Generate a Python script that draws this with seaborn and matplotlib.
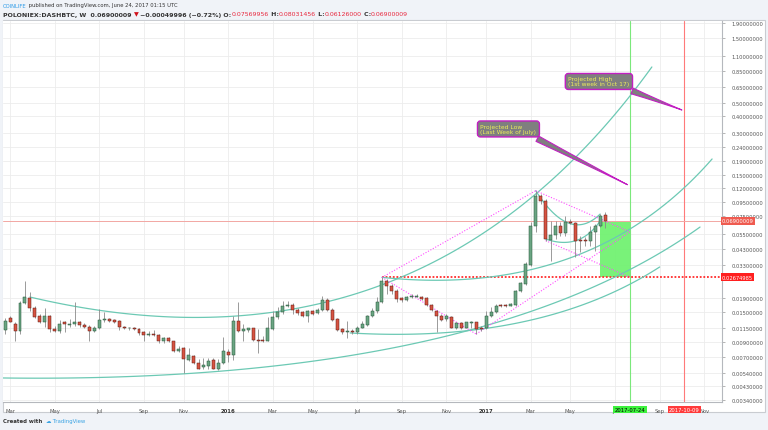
import numpy as np
import pandas as pd
import matplotlib
matplotlib.use("Agg")
import matplotlib.pyplot as plt
import matplotlib.dates as mdates
from matplotlib.patches import Rectangle
import seaborn as sns

sns.set_style("white")
plt.rcParams["font.family"] = ["DejaVu Sans"]

# ---------------- data (weekly DASH/BTC candles) ----------------
first_week = "2015-02-23"
opens = [.0110, .0135, .0122, .0109, .0174, .0189, .0159, .0140, .0126, .0140,
         .0112, .0109, .0126, .0120, .0122, .0126, .0120, .0117, .0108, .0114,
         .0130, .0133, .0131, .0129, .0116, .0114, .0115, .0112, .0106, .0101,
         .0103, .0101, .0091, .0096, .0091, .0077, .0081, .0067, .0071, .0063,
         .0059, .0060, .0067, .0057, .0063, .0076, .0073, .0129, .0109, .0110,
         .0114, .0094, .0093, .0092, .0112, .0137, .0150, .0164, .0168, .0155,
         .0150, .0140, .0152, .0146, .0154, .0184, .0155, .0133, .0112, .0106,
         .0108, .0106, .0115, .0120, .0139, .0151, .0176, .0253, .0232, .0214,
         .0188, .0184, .0192, .0193, .0193, .0189, .0169, .0153, .0140, .0133,
         .0138, .0115, .0125, .0115, .0125, .0126, .0114, .0114, .0140, .0150,
         .0168, .0168, .0166, .0168, .0214, .0239, .0329, .0630, .1042, .0968,
         .0503, .0544, .0637, .0563, .0681, .0666, .0503, .0498, .0495, .0575,
         .0637, .07569956]
highs = [.0135, .0139, .0126, .0181, .0250, .0210, .0164, .0144, .0159, .0142,
         .0119, .0131, .0129, .0133, .0176, .0129, .0125, .0120, .0119, .0157,
         .0150, .0135, .0133, .0131, .0119, .0117, .0116, .0114, .0109, .0109,
         .0111, .0103, .0098, .0098, .0092, .0084, .0083, .0081, .0072, .0068,
         .0069, .0069, .0069, .0068, .0098, .0080, .0140, .0176, .0122, .0115,
         .0115, .0112, .0100, .0137, .0153, .0162, .0181, .0181, .0174, .0159,
         .0153, .0155, .0154, .0159, .0194, .0188, .0159, .0135, .0115, .0129,
         .0112, .0119, .0129, .0142, .0159, .0191, .02674985, .0260, .0239, .0220,
         .0191, .0194, .0202, .0202, .0196, .0191, .0171, .0154, .0144, .0144,
         .0140, .0127, .0126, .0127, .0129, .0127, .0119, .0153, .0162, .0171,
         .0171, .0170, .0174, .0217, .0249, .0344, .0681, .1145, .1083, .0996,
         .0692, .0692, .0673, .0745, .0712, .0673, .0537, .0524, .0637, .0655,
         .0774, .08031456]
lows = [.0103, .0126, .0092, .0103, .0172, .0153, .0135, .0124, .0117, .0106,
        .0106, .0105, .0106, .0117, .0119, .0117, .0114, .0091, .0106, .0112,
        .0127, .0127, .0125, .0110, .0112, .0111, .0110, .0102, .0091, .0100,
        .0100, .0089, .0089, .0090, .0076, .0076, .0054, .0066, .0062, .0057,
        .0057, .0057, .0057, .0056, .0062, .0065, .0067, .0106, .0091, .0107,
        .0092, .0075, .0090, .0091, .0111, .0133, .0144, .0162, .0144, .0142,
        .0137, .0127, .0142, .0144, .0151, .0153, .0129, .0109, .0104, .0096,
        .0103, .0103, .0114, .0119, .0137, .0148, .0174, .0202, .0202, .0176,
        .0178, .0181, .0190, .0191, .0184, .0166, .0153, .0106, .0129, .0129,
        .0114, .0112, .0112, .0114, .0114, .0103, .0109, .0112, .0137, .0148,
        .0162, .0163, .0164, .0166, .0210, .0236, .0325, .0570, .0916, .0495,
        .0354, .0509, .0537, .0537, .0655, .0374, .0408, .0455, .0455, .0418,
        .0620, .06126]
closes = [.0129, .0127, .0108, .0174, .0193, .0159, .0138, .0126, .0139, .0112,
          .0109, .0122, .0122, .0122, .0126, .0120, .0117, .0109, .0114, .0131,
          .0133, .0129, .0127, .0117, .0114, .0115, .0112, .0105, .0102, .0103,
          .0101, .0091, .0096, .0091, .0077, .0080, .0068, .0072, .0063, .0057,
          .0061, .0066, .0057, .0063, .0077, .0073, .0129, .0109, .0112, .0114,
          .0093, .0092, .0092, .0114, .0137, .0150, .0166, .0168, .0154, .0148,
          .0140, .0151, .0145, .0155, .0184, .0154, .0131, .0111, .0106, .0108,
          .0106, .0115, .0122, .0140, .0153, .0176, .0253, .0230, .0214, .0186,
          .0183, .0191, .0196, .0196, .0186, .0168, .0155, .0139, .0131, .0139,
          .0115, .0125, .0114, .0126, .0127, .0112, .0112, .0140, .0150, .0166,
          .0164, .0165, .0171, .0214, .0243, .0334, .0630, .1042, .0968, .0509,
          .0544, .0637, .0563, .0673, .0666, .0495, .0495, .0495, .0575, .0630,
          .0745, .06900009]

price_ticks = [1.9, 1.5, 1.1, 0.85, 0.65, 0.5, 0.4, 0.3, 0.24, 0.19, 0.15, 0.12,
               0.095, 0.075, 0.055, 0.043, 0.033, 0.019, 0.015, 0.0115, 0.009,
               0.007, 0.0054, 0.0043, 0.0034]
time_ticks = ["2015-03-02", "2015-05-04", "2015-07-06", "2015-09-07", "2015-11-02",
              "2016-01-04", "2016-03-07", "2016-05-02", "2016-07-04", "2016-09-05",
              "2016-11-07", "2017-01-02", "2017-03-06", "2017-05-01", "2017-07-03",
              "2017-09-04", "2017-11-06"]
time_labels = ["Mar", "May", "Jul", "Sep", "Nov", "2016", "Mar", "May", "Jul", "Sep",
               "Nov", "2017", "Mar", "May", "Jul", "Sep", "Nov"]

last_price = 0.06900009
support = 0.02674985
support_start = "2016-08-08"
low_date = "2017-07-24"
high_date = "2017-10-09"
box_start = "2017-06-12"

# drawing-tool annotations (date, price) control points
curves = {
    "c1": [("2015-03-30", 0.0192), ("2016-09-30", 0.0041), ("2017-08-24", 0.915)],
    "c2": [("2015-02-20", 0.00493), ("2016-12-24", 0.00446), ("2017-10-31", 0.0622)],
    "c3": [("2016-06-24", 0.0105), ("2017-03-19", 0.00873), ("2017-09-04", 0.0318)],
    "c4": [("2016-08-08", 0.0267), ("2017-05-28", 0.01858), ("2017-11-17", 0.1951)],
    "b1": [("2017-03-13", 0.1145), ("2017-04-30", 0.0468), ("2017-06-12", 0.0774)],
    "b2": [("2017-03-27", 0.0509), ("2017-05-14", 0.0416), ("2017-06-12", 0.0689)],
}
dotted = [
    [("2016-08-08", 0.0267), ("2017-03-13", 0.1145)],
    [("2017-03-13", 0.1145), ("2017-07-24", 0.0573)],
    [("2016-08-08", 0.0267), ("2016-12-19", 0.0103)],
    [("2016-12-19", 0.0103), ("2017-07-24", 0.0573)],
    [("2017-03-27", 0.0495), ("2017-07-24", 0.02675)],
]

# ---------------- figure ----------------
W, H = 768, 431
fig = plt.figure(figsize=(W / 100, H / 100), dpi=100, facecolor="#f0f3f8")
panel = Rectangle((3 / W, 1 - 413 / H), 762 / W, 392 / H, transform=fig.transFigure,
                  facecolor="white", edgecolor="#c9ccd1", lw=0.8, zorder=-10)
fig.patches.append(panel)

ax = fig.add_axes([3 / W, 1 - 403 / H, 719 / W, 381 / H])
ax.set_zorder(5)
ax.set_facecolor("white")
ax.set_yscale("log")

dates = pd.date_range(first_week, periods=len(opens), freq="W-MON")
df = pd.DataFrame({"date": dates, "open": opens, "high": highs, "low": lows, "close": closes})
df["up"] = df["close"] >= df["open"]

x0 = mdates.date2num(pd.Timestamp("2015-02-20"))
x1 = mdates.date2num(pd.Timestamp("2017-12-01"))
ax.set_xlim(x0, x1)
ax.set_ylim(0.003293, 1.98)

# grid
for t in time_ticks:
    ax.axvline(mdates.date2num(pd.Timestamp(t)), color="#ececec", lw=0.6, zorder=0)
for p in price_ticks:
    ax.axhline(p, color="#ececec", lw=0.6, zorder=0)

# green projection box
bx0 = mdates.date2num(pd.Timestamp(box_start))
bx1 = mdates.date2num(pd.Timestamp(low_date))
ax.add_patch(Rectangle((bx0, support), bx1 - bx0, last_price - support,
                       facecolor="#72f272", edgecolor="none", alpha=0.95, zorder=1))

# vertical date lines
ax.axvline(mdates.date2num(pd.Timestamp(low_date)), color="#7be87b", lw=0.8, zorder=1)
ax.axvline(mdates.date2num(pd.Timestamp(high_date)), color="#ff7a7a", lw=0.8, zorder=1)

# last price line
ax.axhline(last_price, color="#f2a7a3", lw=0.7, zorder=1)
# support dotted line
ax.plot([mdates.date2num(pd.Timestamp(support_start)), x1], [support, support],
        color="#ff2b2b", lw=1.3, ls=(0, (1, 1)), zorder=2)


def bezier(pts, n=120):
    xs = np.array([mdates.date2num(pd.Timestamp(d)) for d, _ in pts])
    ys = np.log10(np.array([p for _, p in pts]))
    t = np.linspace(0, 1, n)
    bx = (1 - t) ** 2 * xs[0] + 2 * t * (1 - t) * xs[1] + t ** 2 * xs[2]
    by = (1 - t) ** 2 * ys[0] + 2 * t * (1 - t) * ys[1] + t ** 2 * ys[2]
    return bx, 10 ** by


for key, pts in curves.items():
    cx, cy = bezier(pts)
    sns.lineplot(x=cx, y=cy, ax=ax, color="#6cc9b4", lw=0.9, sort=False,
                 estimator=None, zorder=3)

for seg in dotted:
    sx = [mdates.date2num(pd.Timestamp(d)) for d, _ in seg]
    sy = [p for _, p in seg]
    ax.plot(sx, sy, color="#ff4dff", lw=0.8, ls=(0, (1, 1.5)), zorder=3)

# candles
xd = mdates.date2num(df["date"])
wick_col = "#8a8a8a"
ax.vlines(xd, df["low"], df["high"], color=wick_col, lw=0.6, zorder=4)
body_bot = np.minimum(df["open"], df["close"])
body_h = np.abs(df["close"] - df["open"])
body_h = np.maximum(body_h, body_bot * 0.006)
fc = np.where(df["up"], "#6ba583", "#d75442")
ec = np.where(df["up"], "#225437", "#5b1a13")
ax.bar(xd, body_h, bottom=body_bot, width=4.2, color=fc, edgecolor=ec, lw=0.35,
       zorder=5, align="center")

# axes styling
for s in ["top", "left"]:
    ax.spines[s].set_visible(False)
ax.spines["right"].set_color("#b5b8bd")
ax.spines["bottom"].set_color("#b5b8bd")
ax.spines["right"].set_linewidth(0.8)
ax.spines["bottom"].set_linewidth(0.8)

ax.yaxis.tick_right()
ax.set_yticks(price_ticks)
ax.set_yticklabels([f"{p:.8f}" for p in price_ticks])
ax.yaxis.set_minor_locator(matplotlib.ticker.NullLocator())
ax.tick_params(axis="y", which="major", length=2, width=0.5, color="#999999",
               labelsize=3.7, labelcolor="#555555", pad=5)

ax.set_xticks([mdates.date2num(pd.Timestamp(t)) for t in time_ticks])
ax.set_xticklabels(time_labels)
ax.tick_params(axis="x", length=2, width=0.5, color="#999999", labelsize=3.8,
               labelcolor="#555555", pad=2)
for lab in ax.get_xticklabels():
    if lab.get_text() in ("2016", "2017"):
        lab.set_fontweight("bold")
        lab.set_color("#333333")
ax.set_xlabel("")
ax.set_ylabel("")

# price axis flags
ax.text(1.0, last_price, f"{last_price:.8f}", transform=ax.get_yaxis_transform(),
        ha="left", va="center", fontsize=3.7, color="white", zorder=10,
        bbox=dict(boxstyle="square,pad=0.25", fc="#ef5b50", ec="none"))
ax.text(1.0, support, f"{support:.8f}", transform=ax.get_yaxis_transform(),
        ha="left", va="center", fontsize=3.7, color="white", zorder=10,
        bbox=dict(boxstyle="square,pad=0.25", fc="#ff1f1f", ec="none"))

# time axis flags
ax.text(mdates.date2num(pd.Timestamp(low_date)), -0.013, low_date,
        transform=ax.get_xaxis_transform(), ha="center", va="top", fontsize=3.8,
        color="black", zorder=10, clip_on=False,
        bbox=dict(boxstyle="square,pad=0.25", fc="#3df23d", ec="none"))
ax.text(mdates.date2num(pd.Timestamp(high_date)), -0.013, high_date,
        transform=ax.get_xaxis_transform(), ha="center", va="top", fontsize=3.8,
        color="white", zorder=10, clip_on=False,
        bbox=dict(boxstyle="square,pad=0.25", fc="#ff3a3a", ec="none"))

# callouts
callout_bbox = dict(boxstyle="round,pad=0.5,rounding_size=0.5", fc="#7f7f7f",
                    ec="#c21fc2", lw=1.0)
ax.annotate("Projected Low\n(Last Week of July)",
            xy=(mdates.date2num(pd.Timestamp(low_date)), 0.124),
            xytext=(mdates.date2num(pd.Timestamp("2016-12-25")), 0.323),
            fontsize=4.3, color="#eeee5a", ha="left", va="center", zorder=11,
            linespacing=1.0, bbox=callout_bbox,
            arrowprops=dict(arrowstyle="wedge,tail_width=1.0,shrink_factor=0.4",
                            fc="#7f7f7f", ec="#c21fc2", lw=0.8, relpos=(0.85, 0.0)))
ax.annotate("Projected High\n(1st week in Oct 17)",
            xy=(mdates.date2num(pd.Timestamp(high_date)), 0.437),
            xytext=(mdates.date2num(pd.Timestamp("2017-04-28")), 0.717),
            fontsize=4.3, color="#eeee5a", ha="left", va="center", zorder=11,
            linespacing=1.0, bbox=callout_bbox,
            arrowprops=dict(arrowstyle="wedge,tail_width=1.0,shrink_factor=0.4",
                            fc="#7f7f7f", ec="#c21fc2", lw=0.8, relpos=(0.85, 0.0)))

# ---------------- header / footer text ----------------
fig.canvas.draw()
renderer = fig.canvas.get_renderer()


def seq_text(x_px, y_px, parts, size):
    x = x_px
    for txt, col, wt in parts:
        t = fig.text(x / W, 1 - y_px / H, txt, fontsize=size, color=col,
                     fontweight=wt, ha="left", va="center")
        bb = t.get_window_extent(renderer=renderer)
        x += bb.width


dark = "#333333"
red = "#e8283e"
seq_text(3, 6, [("COINLIFE", "#2b9ae8", "normal"),
                (" published on TradingView.com, June 24, 2017 01:15 UTC", dark, "normal")], 3.8)
seq_text(3, 15, [("POLONIEX:DASHBTC, W  0.06900009 ", dark, "bold"),
                 ("\u25bc", "#d0101a", "normal"),
                 (" \u22120.00049996 (\u22120.72%) O:", dark, "bold"),
                 ("0.07569956", red, "normal"), (" H:", dark, "bold"),
                 ("0.08031456", red, "normal"), (" L:", dark, "bold"),
                 ("0.06126000", red, "normal"), (" C:", dark, "bold"),
                 ("0.06900009", red, "normal")], 4.5)
seq_text(3, 422, [("Created with  ", dark, "bold"), ("\u2601", "#3aa3e3", "normal"),
                  (" TradingView", "#3aa3e3", "normal")], 3.9)

fig.savefig("out.png", dpi=100, facecolor=fig.get_facecolor())
